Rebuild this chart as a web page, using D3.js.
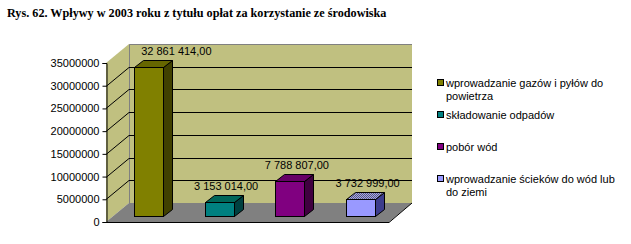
<!DOCTYPE html>
<html>
<head>
<meta charset="utf-8">
<script src="https://cdn.jsdelivr.net/npm/d3@7"></script>
<style>
  body { margin: 0; background: #fff; }
  svg { display: block; }
  text { font-family: Arial, "Liberation Sans", sans-serif; font-size: 11px; fill: #000; }
</style>
</head>
<body>
<svg id="chart" width="631" height="244"></svg>
<script>
// data
const categories = [
	"wprowadzanie gazów i pyłów do powietrza",
	"składowanie odpadów",
	"pobór wód",
	"wprowadzanie ścieków do wód lub do ziemi",
]
const values = [32861414, 3153014, 7788807, 3732999]
const valueLabels = ["32 861 414,00", "3 153 014,00", "7 788 807,00", "3 732 999,00"]
const yTicks = [0, 5000000, 10000000, 15000000, 20000000, 25000000, 30000000, 35000000]
const title = "Rys. 62. Wpływy w 2003 roku z tytułu opłat za korzystanie ze środowiska"

// colours: front, top, side
const colors = [
	{ front: "#808000", top: "#666600", side: "#404000" },
	{ front: "#008080", top: "#006659", side: "#004040" },
	{ front: "#800080", top: "#660066", side: "#400040" },
	{ front: "#9999ff", top: "url(#dots)", side: "#3c3c8c" },
]

const svg = d3.select("#chart")

// dotted top for the last bar
const pat = svg.append("defs").append("pattern")
	.attr("id", "dots").attr("width", 2).attr("height", 2)
	.attr("patternUnits", "userSpaceOnUse")
pat.append("rect").attr("width", 2).attr("height", 2).attr("fill", "#9999ff")
pat.append("rect").attr("width", 1).attr("height", 1).attr("fill", "#666666")
pat.append("rect").attr("x", 1).attr("y", 1).attr("width", 1).attr("height", 1).attr("fill", "#666666")

// title
svg.append("text")
	.attr("x", 7).attr("y", 17)
	.style("font-family", "'Times New Roman', 'Liberation Serif', serif")
	.style("font-weight", "bold")
	.style("font-size", "12.2px")
	.text(title)

// plot geometry
const plot = { left: 106, right: 389, bottom: 222, top: 63 }
const depth = { dx: 23, dy: -19 } // wall depth
const barPlane = { dx: 7, dy: -6 } // where bars stand on the floor
const barDepth = { dx: 9, dy: -7 }

const y = d3.scaleLinear().domain([0, 35000000]).range([plot.bottom, plot.top])
const x = d3.scaleBand().domain(categories)
	.range([plot.left, plot.right])
	.paddingInner(0.587).paddingOuter(0.587 / 2)

const pts = (arr) => arr.map((p) => p.join(",")).join(" ")

// back wall
svg.append("rect")
	.attr("x", plot.left + depth.dx).attr("y", plot.top + depth.dy)
	.attr("width", plot.right - plot.left).attr("height", plot.bottom - plot.top)
	.attr("fill", "#c0c080")
svg.append("path")
	.attr("d", `M${plot.left + depth.dx + 0.5},${plot.bottom + depth.dy}V${plot.top + depth.dy + 0.5}H${plot.right + depth.dx}`)
	.attr("fill", "none").attr("stroke", "#808080")

// side wall
svg.append("polygon")
	.attr("points", pts([
		[plot.left, plot.top], [plot.left + depth.dx, plot.top + depth.dy],
		[plot.left + depth.dx, plot.bottom + depth.dy], [plot.left, plot.bottom],
	]))
	.attr("fill", "#c0c080")

// gridlines
const grid = svg.append("g")
yTicks.filter((d) => d > 0 && d < 35000000).forEach((d) => {
	const yy = Math.round(y(d)) + 0.5
	grid.append("path")
		.attr("d", `M${plot.left},${yy}L${plot.left + depth.dx},${yy + depth.dy}H${plot.right + depth.dx}`)
		.attr("fill", "none").attr("stroke", "#000")
})

// floor
svg.append("polygon")
	.attr("points", pts([
		[plot.left, plot.bottom], [plot.left + depth.dx, plot.bottom + depth.dy],
		[plot.right + depth.dx, plot.bottom + depth.dy], [plot.right, plot.bottom],
	]))
	.attr("fill", "#808080")
svg.append("path")
	.attr("d", `M${plot.left},${plot.bottom + 0.5}H${plot.right}L${plot.right + depth.dx},${plot.bottom + depth.dy}`)
	.attr("fill", "none").attr("stroke", "#000")

// bars
const bw = x.bandwidth()
const bars = svg.append("g").selectAll("g")
	.data(values)
	.join("g")
bars.each(function (v, i) {
	const g = d3.select(this)
	const x0 = Math.round(x(categories[i]) + barPlane.dx) + 0.5
	const x1 = x0 + Math.round(bw)
	const yb = Math.round(y(0) + barPlane.dy) + 0.5
	const yt = Math.round(y(v) + barPlane.dy) + 0.5
	const c = colors[i]
	g.append("polygon")
		.attr("points", pts([[x1, yt], [x1 + barDepth.dx, yt + barDepth.dy], [x1 + barDepth.dx, yb + barDepth.dy], [x1, yb]]))
		.attr("fill", c.side).attr("stroke", "#000")
	g.append("polygon")
		.attr("points", pts([[x0, yt], [x0 + barDepth.dx, yt + barDepth.dy], [x1 + barDepth.dx, yt + barDepth.dy], [x1, yt]]))
		.attr("fill", c.top).attr("stroke", "#000")
	g.append("rect")
		.attr("x", x0).attr("y", yt).attr("width", x1 - x0).attr("height", yb - yt)
		.attr("fill", c.front).attr("stroke", "#000")
})

// value labels (the tallest one is pushed right by the chart top, like in Excel)
svg.append("g").selectAll("text")
	.data(values)
	.join("text")
	.attr("text-anchor", "middle")
	.attr("x", (d, i) => x(categories[i]) + barPlane.dx + bw / 2 + (i === 0 ? 28 : 7))
	.attr("y", (d, i) => Math.max(44, y(d) + barPlane.dy - 12))
	.text((d, i) => valueLabels[i])

// y axis
const axis = svg.append("g")
	.attr("transform", `translate(${plot.left + 0.5},0)`)
	.call(d3.axisLeft(y).tickValues(yTicks).tickFormat(d3.format("d")).tickSize(4).tickPadding(3))
axis.select(".domain").attr("stroke", "#000")
axis.selectAll("text").style("font-size", "11px").style("font-family", "Arial, 'Liberation Sans', sans-serif")

// legend
const legend = svg.append("g").attr("transform", "translate(437,0)")
const wrapWidth = 178
let ly = 83
categories.forEach((name, i) => {
	// wrap text into lines
	const words = name.split(" ")
	const lines = []
	let line = ""
	const probe = legend.append("text").attr("visibility", "hidden")
	words.forEach((w) => {
		const test = line ? line + " " + w : w
		probe.text(test)
		if (probe.node().getComputedTextLength() > wrapWidth && line) {
			lines.push(line)
			line = w
		} else line = test
	})
	lines.push(line)
	probe.remove()

	legend.append("rect")
		.attr("x", 0.5).attr("y", ly - 3.5).attr("width", 6).attr("height", 6)
		.attr("fill", colors[i].front).attr("stroke", "#000")
	lines.forEach((l, k) => {
		legend.append("text")
			.attr("x", 9).attr("y", ly + k * 12.5 + 4)
			.text(l)
	})
	ly += 32
})
</script>
</body>
</html>
